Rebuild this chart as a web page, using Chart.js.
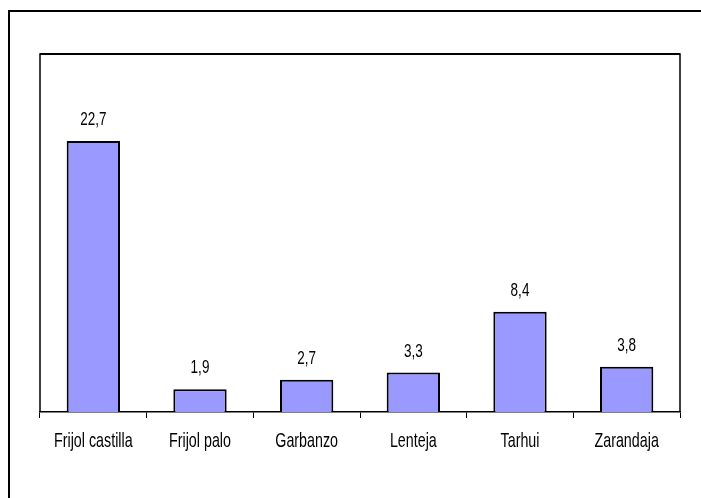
<!DOCTYPE html>
<html>
<head>
<meta charset="utf-8">
<script src="https://cdn.jsdelivr.net/npm/chart.js@4"></script>
<style>
html,body{margin:0;padding:0;background:#fff;}
#wrap{width:701px;height:498px;position:relative;}
</style>
</head>
<body>
<div id="wrap"><canvas id="c" width="701" height="498"></canvas></div>
<script>
const categories = ["Frijol castilla", "Frijol palo", "Garbanzo", "Lenteja", "Tarhui", "Zarandaja"];
const values = [22.7, 1.9, 2.7, 3.3, 8.4, 3.8];
const yMin = 0;
const yMax = 30;

const FONT = '"Liberation Sans", Arial, sans-serif';
const fmt = v => v.toFixed(1).replace('.', ',');

function stretchedText(ctx, text, x, y, sy) {
  ctx.save();
  ctx.translate(x, y);
  ctx.scale(1, sy);
  ctx.fillText(text, 0, 0);
  ctx.restore();
}

const framePlugin = {
  id: 'frame',
  afterDraw(chart) {
    const ctx = chart.ctx;
    const a = chart.chartArea;
    ctx.save();
    ctx.strokeStyle = '#000';
    ctx.lineWidth = 2;
    ctx.beginPath();
    ctx.moveTo(9, 498);
    ctx.lineTo(9, 11);
    ctx.lineTo(701, 11);
    ctx.stroke();
    ctx.lineWidth = 1.5;
    ctx.beginPath();
    ctx.moveTo(a.left, a.bottom);
    ctx.lineTo(a.left, a.top);
    ctx.lineTo(a.right, a.top);
    ctx.lineTo(a.right, a.bottom);
    ctx.stroke();
    ctx.lineWidth = 2;
    ctx.beginPath();
    ctx.moveTo(a.left, a.top);
    ctx.lineTo(a.right, a.top);
    ctx.stroke();
    ctx.fillStyle = '#000';
    ctx.textAlign = 'center';
    ctx.textBaseline = 'alphabetic';
    ctx.font = '13.5px ' + FONT;
    const meta = chart.getDatasetMeta(0);
    meta.data.forEach((bar, i) => {
      stretchedText(ctx, fmt(values[i]), bar.x, bar.y - 16, 1.35);
    });
    const xs = chart.scales.x;
    ctx.font = '14.3px ' + FONT;
    categories.forEach((c, i) => {
      stretchedText(ctx, c, xs.getPixelForValue(i), a.bottom + 35, 1.38);
    });
    ctx.restore();
  }
};

new Chart(document.getElementById('c'), {
  type: 'bar',
  data: {
    labels: categories,
    datasets: [{
      data: values,
      backgroundColor: '#9999FF',
      borderColor: '#000',
      borderWidth: 2,
      borderSkipped: 'bottom',
      barPercentage: 0.5,
      categoryPercentage: 1.0
    }]
  },
  options: {
    responsive: false,
    animation: false,
    devicePixelRatio: 1,
    layout: { padding: { left: 40, top: 54, right: 21, bottom: 0 } },
    plugins: { legend: { display: false }, tooltip: { enabled: false } },
    scales: {
      y: { display: false, min: yMin, max: yMax },
      x: {
        afterFit(scale) { scale.height = 86; },
        grid: {
          offset: true,
          drawOnChartArea: false,
          drawTicks: true,
          tickLength: 6,
          color: '#000',
          lineWidth: 1
        },
        border: { display: true, color: '#000', width: 1.5 },
        ticks: { display: false }
      }
    }
  },
  plugins: [framePlugin]
});
</script>
</body>
</html>
